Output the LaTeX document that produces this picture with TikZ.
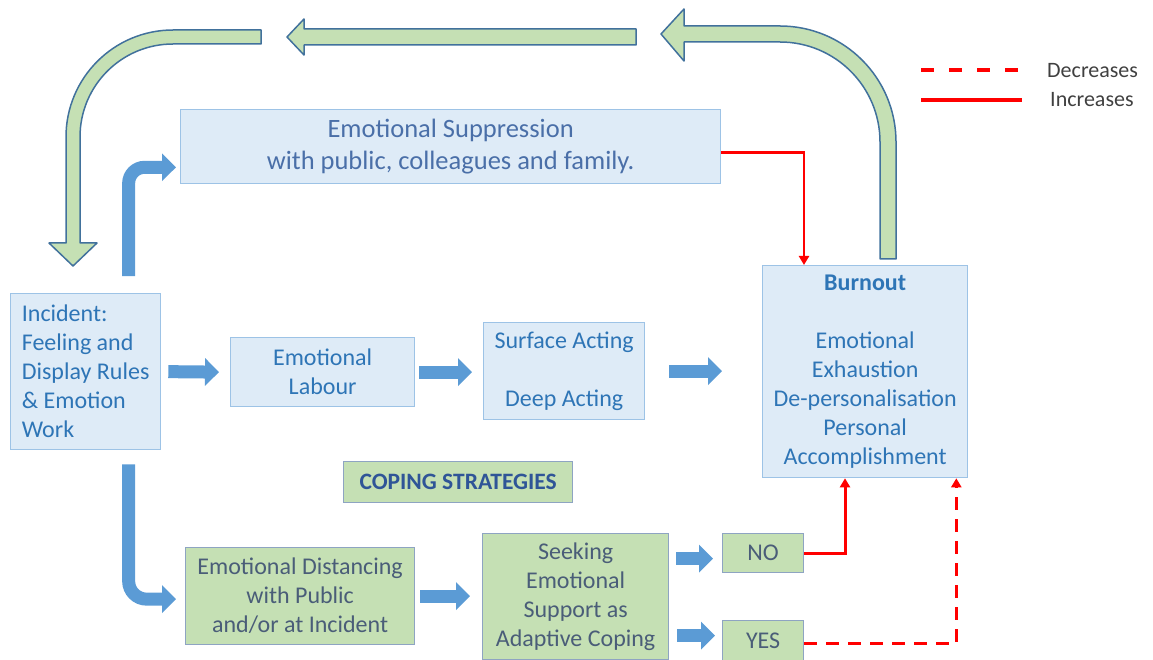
\documentclass[tikz,border=0pt]{standalone}
\usepackage{fontspec}
\setmainfont{Carlito}
\usetikzlibrary{arrows.meta,calc}
\definecolor{bluefill}{HTML}{DEEBF7}
\definecolor{blueborder}{HTML}{9DC3E6}
\definecolor{bluetext}{HTML}{2E75B6}
\definecolor{supptext}{HTML}{4A6FA8}
\definecolor{greenfill}{HTML}{C5E0B4}
\definecolor{greenborder}{HTML}{8EA4C2}
\definecolor{greentext}{HTML}{4A5D78}
\definecolor{copingtext}{HTML}{2F5597}
\definecolor{arrowblue}{HTML}{5B9BD5}
\definecolor{garrowline}{HTML}{41719C}
\definecolor{legtext}{HTML}{404040}
\definecolor{redline}{HTML}{FF0000}
\begin{document}
\begin{tikzpicture}[x=1pt,y=-1pt,
  bluebox/.style={draw=blueborder, line width=1.3pt, fill=bluefill, text=bluetext,
    inner sep=0pt, anchor=north west, align=center, font=\fontsize{24}{29}\selectfont},
  greenbox/.style={draw=greenborder, line width=1.3pt, fill=greenfill, text=greentext,
    inner sep=0pt, anchor=north west, align=center, font=\fontsize{24}{29}\selectfont},
  barrow/.style={draw=arrowblue, line width=13pt, -{Triangle[length=14pt,width=27pt]}},
  garrow/.style={fill=greenfill, draw=garrowline, line width=1.5pt, line join=round},
  redarrow/.style={draw=redline, line width=3pt, -{Triangle[length=9pt,width=10pt]}},
  legendtext/.style={text=legtext, anchor=west, inner sep=0pt, font=\fontsize{22}{26}\selectfont}
]
\useasboundingbox (0,0) rectangle (1153,660);

% boxes
\node[bluebox, minimum width=540pt, minimum height=74pt, text=supptext,
  font=\fontsize{26.5}{32}\selectfont] (supp) at (180,109)
  {Emotional Suppression\\with public, colleagues and family.};
\node[bluebox, minimum width=150pt, minimum height=156pt, align=left] (inc) at (10,293)
  {Incident:\\Feeling and\\Display Rules\\\& Emotion\\Work};
\node[bluebox, minimum width=184pt, minimum height=69pt] (lab) at (230,337)
  {Emotional\\Labour};
\node[bluebox, minimum width=161pt, minimum height=97pt] (surf) at (483,322)
  {Surface Acting\\[29pt]Deep Acting};
\node[bluebox, minimum width=205pt, minimum height=212pt] (burn) at (762,265)
  {\textbf{Burnout}\\[29pt]Emotional\\Exhaustion\\De-personalisation\\Personal\\Accomplishment};
\node[greenbox, minimum width=229pt, minimum height=41pt, text=copingtext,
  font=\fontsize{23.5}{28}\selectfont\bfseries] (coping) at (343,461) {COPING STRATEGIES};
\node[greenbox, minimum width=229pt, minimum height=97pt] (dist) at (185,547)
  {Emotional Distancing\\with Public\\and/or at Incident};
\node[greenbox, minimum width=186pt, minimum height=126pt] (seek) at (482,533)
  {Seeking\\Emotional\\Support as\\Adaptive Coping};
\node[greenbox, minimum width=81pt, minimum height=39pt] (no) at (722,533) {NO};
\node[greenbox, minimum width=81pt, minimum height=40pt] (yes) at (722,620) {YES};

% blue block arrows
\draw[barrow] ($(inc.east)+(7,0)$) -- ($(lab.west)+(-11,0)$);
\draw[barrow] ($(lab.east)+(4,0)$) -- ($(surf.west|-lab.east)+(-11,0)$);
\draw[barrow] ($(surf.east)+(24,0)$) -- ($(surf.east-|burn.west)+(-40,0)$);
\draw[barrow] ($(dist.east)+(5,0)$) -- ($(seek.west|-dist.east)+(-12,0)$);
\coordinate (sn) at ($(seek.east)+(7,-38)$);
\coordinate (sy) at ($(seek.east)+(8,39)$);
\draw[barrow] (sn) -- ($(sn-|no.west)+(-9,0)$);
\draw[barrow] (sy) -- ($(sy-|yes.west)+(-7,0)$);
\draw[barrow, rounded corners=16pt] ($(inc.north)+(43,-17)$) |- ($(supp.south west)+(-4,-17)$);
\draw[barrow, rounded corners=18pt] ($(inc.south)+(43,14)$) |- ($(dist.west)+(-9,3)$);

% green feedback arrows
\draw[garrow] (880,259) -- (880,142) arc[start angle=0, end angle=90, radius=100pt]
  -- (684,42) -- (684,61) -- (661,34) -- (684,9) -- (684,26) -- (780,26)
  arc[start angle=90, end angle=0, radius=116pt] -- (896,259) -- cycle;
\draw[garrow] (636,29) -- (304,29) -- (304,19) -- (287,37) -- (304,55) -- (304,45) -- (636,45) -- cycle;
\draw[garrow] (261,30) -- (173,30) arc[start angle=90, end angle=180, radius=107pt]
  -- (66,243) -- (49,243) -- (73,266) -- (97,243) -- (80,243) -- (80,137)
  arc[start angle=180, end angle=90, radius=93pt] -- (261,44) -- cycle;

% red influence arrows
\draw[redarrow, line width=2.5pt] ($(supp.east)+(0,6)$) -| ($(burn.north west)+(42,0)$);
\draw[redarrow] (no.east) -| ($(burn.south west)+(83,0)$);
\draw[redarrow, dash pattern=on 13pt off 9pt] ($(yes.east)+(0,3)$) -| ($(burn.south east)+(-12,0)$);

% legend
\node[legendtext] (dec) at (1047,71) {Decreases};
\node[legendtext] (inc2) at (1050,100) {Increases};
\draw[redline, line width=3.5pt, dash pattern=on 13pt off 15pt] (921,70) -- (1020,70);
\draw[redline, line width=3.5pt] (921,100) -- (1022,100);
\end{tikzpicture}
\end{document}
